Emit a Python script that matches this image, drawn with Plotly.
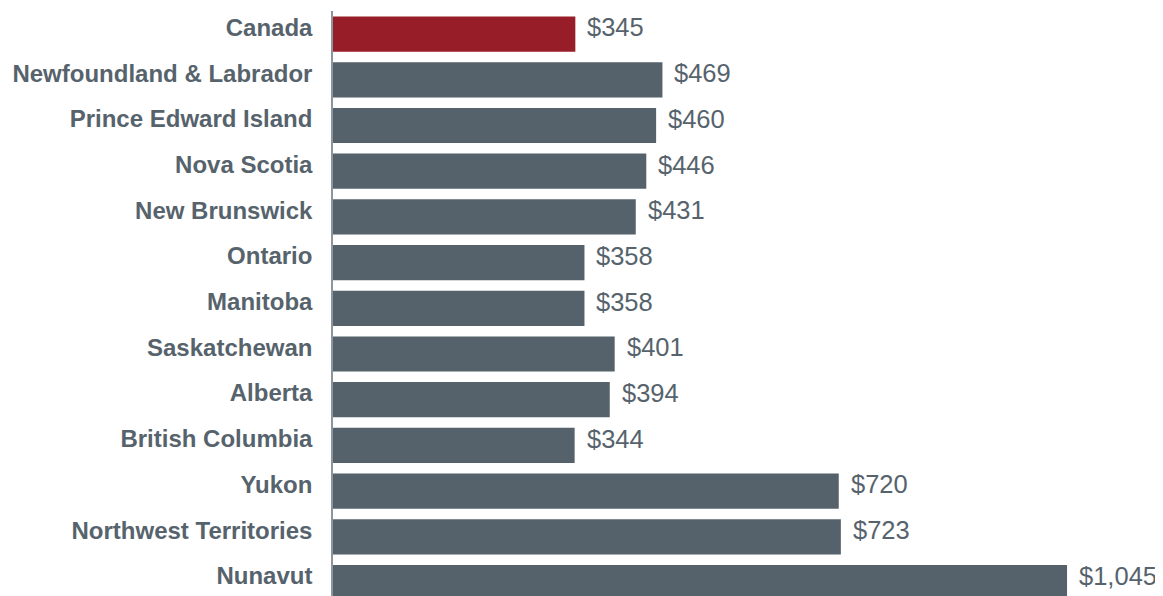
import plotly.graph_objects as go

categories = ["Canada", "Newfoundland & Labrador", "Prince Edward Island", "Nova Scotia",
              "New Brunswick", "Ontario", "Manitoba", "Saskatchewan", "Alberta",
              "British Columbia", "Yukon", "Northwest Territories", "Nunavut"]
values = [345, 469, 460, 446, 431, 358, 358, 401, 394, 344, 720, 723, 1045]
value_labels = ["$345", "$469", "$460", "$446", "$431", "$358", "$358", "$401", "$394",
                "$344", "$720", "$723", "$1,045"]

RED = "#971E28"
GRAY = "#55626B"
TEXT = "#56636C"

colors = [RED] + [GRAY] * (len(categories) - 1)

fig = go.Figure(go.Bar(
    x=values, y=categories, orientation="h",
    width=0.77, offset=-0.24,
    marker=dict(color=colors, line=dict(width=0)),
    hoverinfo="skip",
))

for c, v, lab in zip(categories, values, value_labels):
    fig.add_annotation(x=v, y=c, text=lab, showarrow=False, xanchor="left", yshift=0,
                       xshift=10, font=dict(family="Liberation Sans, Arial", size=25.5, color=TEXT))

fig.update_layout(
    width=1155, height=588,
    margin=dict(l=325, r=0, t=3, b=0, autoexpand=False),
    paper_bgcolor="white", plot_bgcolor="white",
    showlegend=False,
    xaxis=dict(range=[0, 1181.6], visible=False, showgrid=False, zeroline=False),
    yaxis=dict(range=[12.44, -0.36], showgrid=False, zeroline=False,
               showline=True, linecolor="#8C959C", linewidth=1.5,
               ticks="", ticklabelstandoff=14,
               tickfont=dict(family="Liberation Sans, Arial", size=24, color=TEXT,
                             weight="bold")),
)

fig.write_html("out.html")
